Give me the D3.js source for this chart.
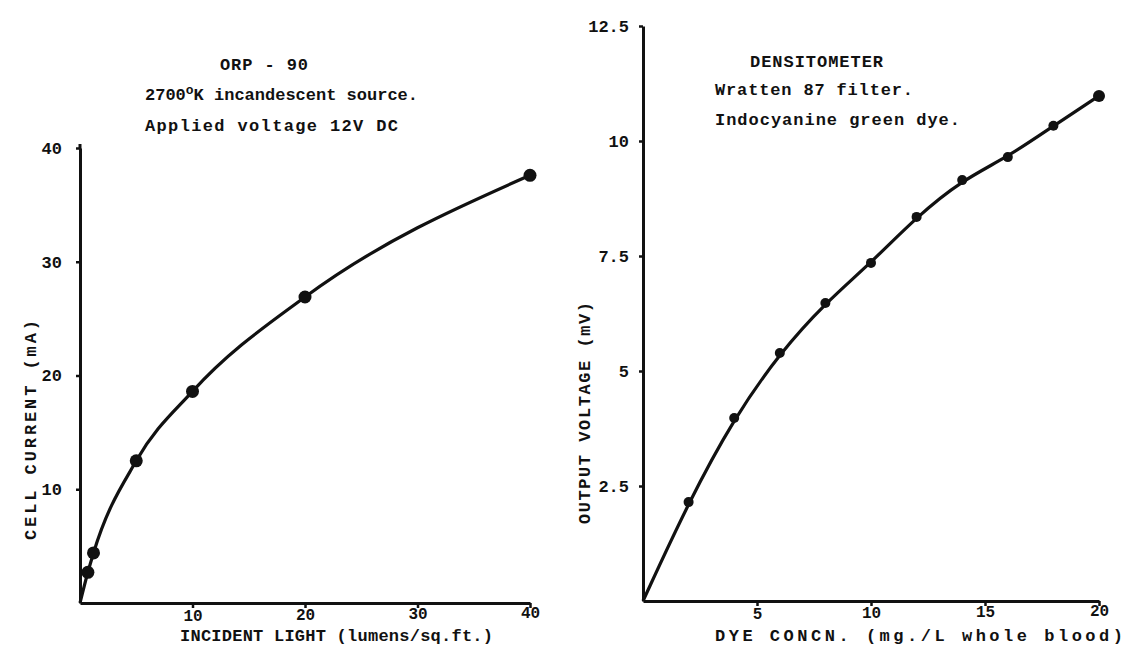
<!DOCTYPE html>
<html>
<head>
<meta charset="utf-8">
<script src="https://cdn.jsdelivr.net/npm/d3@7"></script>
<style>
  body { margin: 0; background: #fff; }
  svg { display: block; }
  text { font-family: "Liberation Mono", "Courier New", monospace; font-weight: bold; fill: #111; }
  .axis path, .axis line { stroke: #111; }
</style>
</head>
<body>
<div id="chart"></div>
<script>
// left panel: ORP-90 cell current vs incident light (first entry is the origin, no dot)
const lightX = [0, 0.7, 1.2, 5, 10, 20, 40];
const currentY = [0, 2.7, 4.4, 12.5, 18.6, 26.9, 37.6];
const lightTicks = [10, 20, 30, 40];
const currentTicks = [10, 20, 30, 40];

// right panel: densitometer output vs dye concentration
const dyeX = [0, 2, 4, 6, 8, 10, 12, 14, 16, 18, 20];
const voltY = [0, 2.15, 3.98, 5.39, 6.48, 7.35, 8.35, 9.15, 9.65, 10.33, 10.98];
const dyeTicks = [5, 10, 15, 20];
const voltTicks = [2.5, 5, 7.5, 10, 12.5];

const width = 1129, height = 657;

const svg = d3.select('#chart')
  .append('svg')
  .attr('width', width)
  .attr('height', height);

const addText = (txt, x, y, len, opts = {}) => {
  const t = svg.append('text')
    .attr('x', x)
    .attr('y', y)
    .attr('font-size', opts.size || 17)
    .attr('textLength', len)
    .attr('lengthAdjust', 'spacing')
    .text(txt);
  if (opts.rotate) t.attr('transform', `rotate(-90, ${x}, ${y})`);
  return t;
};

const drawPanel = (cfg) => {
  const x = d3.scaleLinear().domain(cfg.xDomain).range(cfg.xRange);
  const y = d3.scaleLinear().domain(cfg.yDomain).range(cfg.yRange);

  svg.append('g')
    .attr('class', 'axis')
    .attr('transform', `translate(0, ${cfg.yRange[0]})`)
    .call(d3.axisBottom(x).tickValues(cfg.xTicks).tickSize(5).tickSizeOuter(0).tickPadding(2))
    .call(g => g.select('.domain').attr('stroke-width', 3))
    .call(g => g.selectAll('.tick line').attr('stroke-width', 2.5))
    .call(g => g.selectAll('.tick text')
      .attr('font-size', 16)
      .attr('dy', (d, i) => (0.71 - i * 0.07) + 'em'));

  svg.append('g')
    .attr('class', 'axis')
    .attr('transform', `translate(${cfg.xRange[0]}, 0)`)
    .call(d3.axisLeft(y).tickValues(cfg.yTicks).tickSize(4).tickSizeOuter(0)
      .tickPadding(cfg.yPad).tickFormat(d3.format('')))
    .call(g => g.select('.domain').attr('stroke-width', 3))
    .call(g => g.selectAll('.tick line').attr('stroke-width', 2.5))
    .call(g => g.selectAll('.tick text').attr('font-size', 17));

  const line = d3.line()
    .x((d, i) => x(cfg.xs[i]))
    .y((d, i) => y(cfg.ys[i]))
    .curve(cfg.curve);

  svg.append('path')
    .datum(cfg.xs)
    .attr('d', line)
    .attr('fill', 'none')
    .attr('stroke', '#111')
    .attr('stroke-width', 3.2);

  svg.selectAll(null)
    .data(cfg.xs.slice(1))
    .enter()
    .append('circle')
    .attr('cx', d => x(d))
    .attr('cy', (d, i) => y(cfg.ys[i + 1]))
    .attr('r', (d, i) => cfg.r(i))
    .attr('fill', '#111');
};

drawPanel({
  xs: lightX, ys: currentY,
  xDomain: [0, 40], xRange: [80, 530],
  yDomain: [0, 40], yRange: [603, 148],
  xTicks: lightTicks, yTicks: currentTicks,
  yPad: 14,
  curve: d3.curveMonotoneX,
  r: () => 6.5
});

drawPanel({
  xs: dyeX, ys: voltY,
  xDomain: [0, 20], xRange: [643, 1099],
  yDomain: [0, 12.5], yRange: [601, 26],
  xTicks: dyeTicks, yTicks: voltTicks,
  yPad: 10,
  curve: d3.curveBasis,
  r: i => (i === dyeX.length - 2 ? 6 : 5)
});

// extend left y axis a touch above the top tick like the original
svg.append('line')
  .attr('x1', 80).attr('x2', 80).attr('y1', 149).attr('y2', 144)
  .attr('stroke', '#111').attr('stroke-width', 3);

// axis titles
addText('INCIDENT LIGHT (lumens/sq.ft.)', 180, 641, 313);
addText('CELL CURRENT (mA)', 36, 540, 220, { rotate: true });
addText('DYE CONCN. (mg./L whole blood)', 715, 641, 408);
addText('OUTPUT VOLTAGE (mV)', 590, 524, 222, { rotate: true });

// panel captions
addText('ORP - 90', 220, 70, 88);
const cap = svg.append('text')
  .attr('x', 145).attr('y', 100)
  .attr('font-size', 17)
  .attr('textLength', 273)
  .attr('lengthAdjust', 'spacing');
cap.append('tspan').text('2700');
cap.append('tspan').attr('dy', -6).attr('font-size', 13).text('o');
cap.append('tspan').attr('dy', 6).text('K incandescent source.');
addText('Applied voltage 12V DC', 145, 131, 253);

addText('DENSITOMETER', 750, 67, 133);
addText('Wratten 87 filter.', 715, 95, 198);
addText('Indocyanine green dye.', 715, 125, 245);
</script>
</body>
</html>
